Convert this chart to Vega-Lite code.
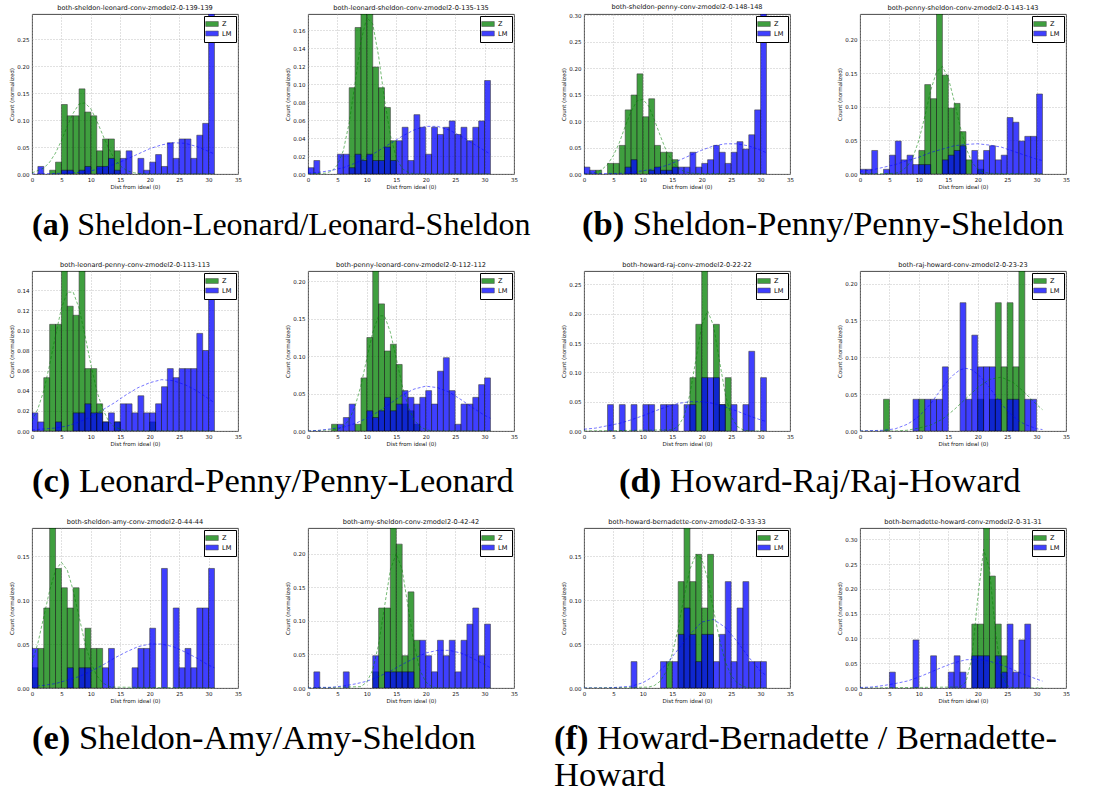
{
"$schema":"https://vega.github.io/schema/vega-lite/v6.json",
"background":"white",
"padding":{"left":9,"top":4,"right":0,"bottom":0},
"datasets":{
"bars":[
{"p":1,"s":"Z","x":3,"x2":4,"y":0.007},{"p":1,"s":"Z","x":4,"x2":5,"y":0.022},{"p":1,"s":"Z","x":5,"x2":6,"y":0.129},{"p":1,"s":"Z","x":6,"x2":7,"y":0.108},{"p":1,"s":"Z","x":7,"x2":8,"y":0.108},{"p":1,"s":"Z","x":8,"x2":9,"y":0.158},{"p":1,"s":"Z","x":9,"x2":10,"y":0.115},{"p":1,"s":"Z","x":10,"x2":11,"y":0.108},{"p":1,"s":"Z","x":11,"x2":12,"y":0.043},{"p":1,"s":"Z","x":12,"x2":13,"y":0.065},{"p":1,"s":"Z","x":13,"x2":14,"y":0.065},{"p":1,"s":"Z","x":14,"x2":15,"y":0.043},
{"p":2,"s":"Z","x":7,"x2":8,"y":0.096},{"p":2,"s":"Z","x":8,"x2":9,"y":0.163},{"p":2,"s":"Z","x":9,"x2":10,"y":0.178},{"p":2,"s":"Z","x":10,"x2":11,"y":0.178},{"p":2,"s":"Z","x":11,"x2":12,"y":0.119},{"p":2,"s":"Z","x":12,"x2":13,"y":0.096},{"p":2,"s":"Z","x":13,"x2":14,"y":0.074},{"p":2,"s":"Z","x":14,"x2":15,"y":0.037},
{"p":3,"s":"Z","x":2,"x2":3,"y":0.007},{"p":3,"s":"Z","x":4,"x2":5,"y":0.02},{"p":3,"s":"Z","x":5,"x2":6,"y":0.02},{"p":3,"s":"Z","x":6,"x2":7,"y":0.054},{"p":3,"s":"Z","x":7,"x2":8,"y":0.121},{"p":3,"s":"Z","x":8,"x2":9,"y":0.149},{"p":3,"s":"Z","x":9,"x2":10,"y":0.189},{"p":3,"s":"Z","x":10,"x2":11,"y":0.108},{"p":3,"s":"Z","x":11,"x2":12,"y":0.142},{"p":3,"s":"Z","x":12,"x2":13,"y":0.054},{"p":3,"s":"Z","x":13,"x2":14,"y":0.041},{"p":3,"s":"Z","x":14,"x2":15,"y":0.041},{"p":3,"s":"Z","x":15,"x2":16,"y":0.027},
{"p":4,"s":"Z","x":10,"x2":11,"y":0.035},{"p":4,"s":"Z","x":11,"x2":12,"y":0.133},{"p":4,"s":"Z","x":12,"x2":13,"y":0.112},{"p":4,"s":"Z","x":13,"x2":14,"y":0.238},{"p":4,"s":"Z","x":14,"x2":15,"y":0.147},{"p":4,"s":"Z","x":15,"x2":16,"y":0.098},{"p":4,"s":"Z","x":16,"x2":17,"y":0.105},{"p":4,"s":"Z","x":17,"x2":18,"y":0.063},{"p":4,"s":"Z","x":18,"x2":19,"y":0.021},{"p":4,"s":"Z","x":20,"x2":21,"y":0.007},
{"p":5,"s":"Z","x":2,"x2":3,"y":0.053},{"p":5,"s":"Z","x":3,"x2":4,"y":0.106},{"p":5,"s":"Z","x":4,"x2":5,"y":0.106},{"p":5,"s":"Z","x":5,"x2":6,"y":0.159},{"p":5,"s":"Z","x":6,"x2":7,"y":0.124},{"p":5,"s":"Z","x":7,"x2":8,"y":0.115},{"p":5,"s":"Z","x":8,"x2":9,"y":0.159},{"p":5,"s":"Z","x":9,"x2":10,"y":0.062},{"p":5,"s":"Z","x":10,"x2":11,"y":0.062},{"p":5,"s":"Z","x":11,"x2":12,"y":0.027},{"p":5,"s":"Z","x":12,"x2":13,"y":0.009},{"p":5,"s":"Z","x":14,"x2":15,"y":0.009},{"p":5,"s":"Z","x":20,"x2":21,"y":0.009},
{"p":6,"s":"Z","x":4,"x2":5,"y":0.009},{"p":6,"s":"Z","x":8,"x2":9,"y":0.009},{"p":6,"s":"Z","x":9,"x2":10,"y":0.071},{"p":6,"s":"Z","x":10,"x2":11,"y":0.125},{"p":6,"s":"Z","x":11,"x2":12,"y":0.214},{"p":6,"s":"Z","x":12,"x2":13,"y":0.17},{"p":6,"s":"Z","x":13,"x2":14,"y":0.107},{"p":6,"s":"Z","x":14,"x2":15,"y":0.116},{"p":6,"s":"Z","x":15,"x2":16,"y":0.089},{"p":6,"s":"Z","x":16,"x2":17,"y":0.036},{"p":6,"s":"Z","x":17,"x2":18,"y":0.027},{"p":6,"s":"Z","x":18,"x2":19,"y":0.009},
{"p":7,"s":"Z","x":18,"x2":19,"y":0.091},{"p":7,"s":"Z","x":19,"x2":20,"y":0.182},{"p":7,"s":"Z","x":20,"x2":21,"y":0.273},{"p":7,"s":"Z","x":22,"x2":23,"y":0.182},{"p":7,"s":"Z","x":23,"x2":24,"y":0.045},{"p":7,"s":"Z","x":24,"x2":25,"y":0.091},
{"p":8,"s":"Z","x":4,"x2":5,"y":0.043},{"p":8,"s":"Z","x":10,"x2":11,"y":0.043},{"p":8,"s":"Z","x":20,"x2":21,"y":0.043},{"p":8,"s":"Z","x":22,"x2":23,"y":0.043},{"p":8,"s":"Z","x":23,"x2":24,"y":0.174},{"p":8,"s":"Z","x":24,"x2":25,"y":0.087},{"p":8,"s":"Z","x":25,"x2":26,"y":0.174},{"p":8,"s":"Z","x":26,"x2":27,"y":0.087},{"p":8,"s":"Z","x":27,"x2":28,"y":0.217},
{"p":9,"s":"Z","x":0,"x2":1,"y":0.023},{"p":9,"s":"Z","x":1,"x2":2,"y":0.045},{"p":9,"s":"Z","x":2,"x2":3,"y":0.091},{"p":9,"s":"Z","x":3,"x2":4,"y":0.182},{"p":9,"s":"Z","x":4,"x2":5,"y":0.136},{"p":9,"s":"Z","x":5,"x2":6,"y":0.114},{"p":9,"s":"Z","x":6,"x2":7,"y":0.091},{"p":9,"s":"Z","x":7,"x2":8,"y":0.114},{"p":9,"s":"Z","x":8,"x2":9,"y":0.045},{"p":9,"s":"Z","x":9,"x2":10,"y":0.068},{"p":9,"s":"Z","x":10,"x2":11,"y":0.045},{"p":9,"s":"Z","x":11,"x2":12,"y":0.045},
{"p":10,"s":"Z","x":11,"x2":12,"y":0.024},{"p":10,"s":"Z","x":12,"x2":13,"y":0.119},{"p":10,"s":"Z","x":13,"x2":14,"y":0.119},{"p":10,"s":"Z","x":14,"x2":15,"y":0.238},{"p":10,"s":"Z","x":15,"x2":16,"y":0.214},{"p":10,"s":"Z","x":16,"x2":17,"y":0.048},{"p":10,"s":"Z","x":17,"x2":18,"y":0.143},{"p":10,"s":"Z","x":18,"x2":19,"y":0.071},
{"p":11,"s":"Z","x":14,"x2":15,"y":0.03},{"p":11,"s":"Z","x":16,"x2":17,"y":0.121},{"p":11,"s":"Z","x":17,"x2":18,"y":0.182},{"p":11,"s":"Z","x":18,"x2":19,"y":0.121},{"p":11,"s":"Z","x":19,"x2":20,"y":0.152},{"p":11,"s":"Z","x":20,"x2":21,"y":0.091},{"p":11,"s":"Z","x":21,"x2":22,"y":0.152},
{"p":12,"s":"Z","x":19,"x2":20,"y":0.129},{"p":12,"s":"Z","x":20,"x2":21,"y":0.129},{"p":12,"s":"Z","x":21,"x2":22,"y":0.323},{"p":12,"s":"Z","x":22,"x2":23,"y":0.226},{"p":12,"s":"Z","x":23,"x2":24,"y":0.129},{"p":12,"s":"Z","x":24,"x2":25,"y":0.065},
{"p":1,"s":"LM","x":1,"x2":2,"y":0.014},{"p":1,"s":"LM","x":5,"x2":6,"y":0.007},{"p":1,"s":"LM","x":6,"x2":7,"y":0.007},{"p":1,"s":"LM","x":8,"x2":9,"y":0.007},{"p":1,"s":"LM","x":9,"x2":10,"y":0.014},{"p":1,"s":"LM","x":11,"x2":12,"y":0.014},{"p":1,"s":"LM","x":12,"x2":13,"y":0.014},{"p":1,"s":"LM","x":13,"x2":14,"y":0.029},{"p":1,"s":"LM","x":14,"x2":15,"y":0.007},{"p":1,"s":"LM","x":15,"x2":16,"y":0.029},{"p":1,"s":"LM","x":16,"x2":17,"y":0.043},{"p":1,"s":"LM","x":18,"x2":19,"y":0.029},{"p":1,"s":"LM","x":19,"x2":20,"y":0.007},{"p":1,"s":"LM","x":20,"x2":21,"y":0.022},{"p":1,"s":"LM","x":21,"x2":22,"y":0.036},{"p":1,"s":"LM","x":22,"x2":23,"y":0.014},{"p":1,"s":"LM","x":23,"x2":24,"y":0.058},{"p":1,"s":"LM","x":24,"x2":25,"y":0.029},{"p":1,"s":"LM","x":25,"x2":26,"y":0.065},{"p":1,"s":"LM","x":26,"x2":27,"y":0.065},{"p":1,"s":"LM","x":27,"x2":28,"y":0.029},{"p":1,"s":"LM","x":28,"x2":29,"y":0.072},{"p":1,"s":"LM","x":29,"x2":30,"y":0.094},{"p":1,"s":"LM","x":30,"x2":31,"y":0.297},
{"p":2,"s":"LM","x":0,"x2":1,"y":0.007},{"p":2,"s":"LM","x":1,"x2":2,"y":0.015},{"p":2,"s":"LM","x":5,"x2":6,"y":0.022},{"p":2,"s":"LM","x":6,"x2":7,"y":0.022},{"p":2,"s":"LM","x":7,"x2":8,"y":0.007},{"p":2,"s":"LM","x":8,"x2":9,"y":0.022},{"p":2,"s":"LM","x":9,"x2":10,"y":0.015},{"p":2,"s":"LM","x":10,"x2":11,"y":0.022},{"p":2,"s":"LM","x":11,"x2":12,"y":0.015},{"p":2,"s":"LM","x":12,"x2":13,"y":0.015},{"p":2,"s":"LM","x":13,"x2":14,"y":0.03},{"p":2,"s":"LM","x":14,"x2":15,"y":0.015},{"p":2,"s":"LM","x":15,"x2":16,"y":0.037},{"p":2,"s":"LM","x":16,"x2":17,"y":0.052},{"p":2,"s":"LM","x":17,"x2":18,"y":0.015},{"p":2,"s":"LM","x":18,"x2":19,"y":0.066},{"p":2,"s":"LM","x":19,"x2":20,"y":0.052},{"p":2,"s":"LM","x":20,"x2":21,"y":0.022},{"p":2,"s":"LM","x":21,"x2":22,"y":0.052},{"p":2,"s":"LM","x":22,"x2":23,"y":0.044},{"p":2,"s":"LM","x":23,"x2":24,"y":0.052},{"p":2,"s":"LM","x":24,"x2":25,"y":0.059},{"p":2,"s":"LM","x":25,"x2":26,"y":0.044},{"p":2,"s":"LM","x":26,"x2":27,"y":0.052},{"p":2,"s":"LM","x":27,"x2":28,"y":0.037},{"p":2,"s":"LM","x":28,"x2":29,"y":0.052},{"p":2,"s":"LM","x":29,"x2":30,"y":0.059},{"p":2,"s":"LM","x":30,"x2":31,"y":0.104},
{"p":3,"s":"LM","x":0,"x2":1,"y":0.013},{"p":3,"s":"LM","x":1,"x2":2,"y":0.007},{"p":3,"s":"LM","x":7,"x2":8,"y":0.013},{"p":3,"s":"LM","x":8,"x2":9,"y":0.027},{"p":3,"s":"LM","x":11,"x2":12,"y":0.007},{"p":3,"s":"LM","x":12,"x2":13,"y":0.013},{"p":3,"s":"LM","x":13,"x2":14,"y":0.007},{"p":3,"s":"LM","x":14,"x2":15,"y":0.007},{"p":3,"s":"LM","x":15,"x2":16,"y":0.013},{"p":3,"s":"LM","x":16,"x2":17,"y":0.013},{"p":3,"s":"LM","x":17,"x2":18,"y":0.013},{"p":3,"s":"LM","x":18,"x2":19,"y":0.041},{"p":3,"s":"LM","x":19,"x2":20,"y":0.013},{"p":3,"s":"LM","x":20,"x2":21,"y":0.02},{"p":3,"s":"LM","x":21,"x2":22,"y":0.027},{"p":3,"s":"LM","x":22,"x2":23,"y":0.054},{"p":3,"s":"LM","x":23,"x2":24,"y":0.041},{"p":3,"s":"LM","x":24,"x2":25,"y":0.02},{"p":3,"s":"LM","x":25,"x2":26,"y":0.041},{"p":3,"s":"LM","x":26,"x2":27,"y":0.061},{"p":3,"s":"LM","x":27,"x2":28,"y":0.047},{"p":3,"s":"LM","x":28,"x2":29,"y":0.074},{"p":3,"s":"LM","x":29,"x2":30,"y":0.121},{"p":3,"s":"LM","x":30,"x2":31,"y":0.302},
{"p":4,"s":"LM","x":0,"x2":1,"y":0.007},{"p":4,"s":"LM","x":1,"x2":2,"y":0.007},{"p":4,"s":"LM","x":2,"x2":3,"y":0.035},{"p":4,"s":"LM","x":4,"x2":5,"y":0.007},{"p":4,"s":"LM","x":5,"x2":6,"y":0.028},{"p":4,"s":"LM","x":6,"x2":7,"y":0.049},{"p":4,"s":"LM","x":7,"x2":8,"y":0.021},{"p":4,"s":"LM","x":8,"x2":9,"y":0.028},{"p":4,"s":"LM","x":9,"x2":10,"y":0.014},{"p":4,"s":"LM","x":10,"x2":11,"y":0.014},{"p":4,"s":"LM","x":11,"x2":12,"y":0.014},{"p":4,"s":"LM","x":14,"x2":15,"y":0.021},{"p":4,"s":"LM","x":15,"x2":16,"y":0.028},{"p":4,"s":"LM","x":16,"x2":17,"y":0.035},{"p":4,"s":"LM","x":17,"x2":18,"y":0.042},{"p":4,"s":"LM","x":19,"x2":20,"y":0.035},{"p":4,"s":"LM","x":20,"x2":21,"y":0.021},{"p":4,"s":"LM","x":21,"x2":22,"y":0.035},{"p":4,"s":"LM","x":22,"x2":23,"y":0.042},{"p":4,"s":"LM","x":23,"x2":24,"y":0.021},{"p":4,"s":"LM","x":24,"x2":25,"y":0.028},{"p":4,"s":"LM","x":25,"x2":26,"y":0.084},{"p":4,"s":"LM","x":26,"x2":27,"y":0.077},{"p":4,"s":"LM","x":27,"x2":28,"y":0.049},{"p":4,"s":"LM","x":28,"x2":29,"y":0.056},{"p":4,"s":"LM","x":29,"x2":30,"y":0.056},{"p":4,"s":"LM","x":30,"x2":31,"y":0.119},
{"p":5,"s":"LM","x":0,"x2":1,"y":0.018},{"p":5,"s":"LM","x":1,"x2":2,"y":0.009},{"p":5,"s":"LM","x":4,"x2":5,"y":0.009},{"p":5,"s":"LM","x":7,"x2":8,"y":0.018},{"p":5,"s":"LM","x":8,"x2":9,"y":0.018},{"p":5,"s":"LM","x":9,"x2":10,"y":0.027},{"p":5,"s":"LM","x":10,"x2":11,"y":0.018},{"p":5,"s":"LM","x":11,"x2":12,"y":0.018},{"p":5,"s":"LM","x":12,"x2":13,"y":0.009},{"p":5,"s":"LM","x":13,"x2":14,"y":0.018},{"p":5,"s":"LM","x":14,"x2":15,"y":0.009},{"p":5,"s":"LM","x":15,"x2":16,"y":0.027},{"p":5,"s":"LM","x":16,"x2":17,"y":0.027},{"p":5,"s":"LM","x":17,"x2":18,"y":0.018},{"p":5,"s":"LM","x":18,"x2":19,"y":0.035},{"p":5,"s":"LM","x":19,"x2":20,"y":0.018},{"p":5,"s":"LM","x":20,"x2":21,"y":0.018},{"p":5,"s":"LM","x":21,"x2":22,"y":0.027},{"p":5,"s":"LM","x":22,"x2":23,"y":0.044},{"p":5,"s":"LM","x":23,"x2":24,"y":0.062},{"p":5,"s":"LM","x":24,"x2":25,"y":0.053},{"p":5,"s":"LM","x":25,"x2":26,"y":0.062},{"p":5,"s":"LM","x":26,"x2":27,"y":0.062},{"p":5,"s":"LM","x":27,"x2":28,"y":0.062},{"p":5,"s":"LM","x":28,"x2":29,"y":0.097},{"p":5,"s":"LM","x":29,"x2":30,"y":0.08},{"p":5,"s":"LM","x":30,"x2":31,"y":0.133},
{"p":6,"s":"LM","x":5,"x2":6,"y":0.009},{"p":6,"s":"LM","x":6,"x2":7,"y":0.018},{"p":6,"s":"LM","x":7,"x2":8,"y":0.036},{"p":6,"s":"LM","x":10,"x2":11,"y":0.027},{"p":6,"s":"LM","x":11,"x2":12,"y":0.018},{"p":6,"s":"LM","x":12,"x2":13,"y":0.027},{"p":6,"s":"LM","x":13,"x2":14,"y":0.045},{"p":6,"s":"LM","x":14,"x2":15,"y":0.027},{"p":6,"s":"LM","x":15,"x2":16,"y":0.036},{"p":6,"s":"LM","x":16,"x2":17,"y":0.054},{"p":6,"s":"LM","x":17,"x2":18,"y":0.045},{"p":6,"s":"LM","x":18,"x2":19,"y":0.036},{"p":6,"s":"LM","x":19,"x2":20,"y":0.045},{"p":6,"s":"LM","x":20,"x2":21,"y":0.054},{"p":6,"s":"LM","x":21,"x2":22,"y":0.036},{"p":6,"s":"LM","x":22,"x2":23,"y":0.08},{"p":6,"s":"LM","x":23,"x2":24,"y":0.098},{"p":6,"s":"LM","x":24,"x2":25,"y":0.054},{"p":6,"s":"LM","x":25,"x2":26,"y":0.009},{"p":6,"s":"LM","x":26,"x2":27,"y":0.036},{"p":6,"s":"LM","x":27,"x2":28,"y":0.036},{"p":6,"s":"LM","x":28,"x2":29,"y":0.045},{"p":6,"s":"LM","x":29,"x2":30,"y":0.062},{"p":6,"s":"LM","x":30,"x2":31,"y":0.071},
{"p":7,"s":"LM","x":4,"x2":5,"y":0.045},{"p":7,"s":"LM","x":6,"x2":7,"y":0.045},{"p":7,"s":"LM","x":8,"x2":9,"y":0.045},{"p":7,"s":"LM","x":10,"x2":11,"y":0.045},{"p":7,"s":"LM","x":11,"x2":12,"y":0.045},{"p":7,"s":"LM","x":13,"x2":14,"y":0.045},{"p":7,"s":"LM","x":14,"x2":15,"y":0.045},{"p":7,"s":"LM","x":15,"x2":16,"y":0.045},{"p":7,"s":"LM","x":17,"x2":18,"y":0.045},{"p":7,"s":"LM","x":18,"x2":19,"y":0.045},{"p":7,"s":"LM","x":20,"x2":21,"y":0.091},{"p":7,"s":"LM","x":21,"x2":22,"y":0.091},{"p":7,"s":"LM","x":22,"x2":23,"y":0.091},{"p":7,"s":"LM","x":23,"x2":24,"y":0.045},{"p":7,"s":"LM","x":25,"x2":26,"y":0.045},{"p":7,"s":"LM","x":27,"x2":28,"y":0.045},{"p":7,"s":"LM","x":28,"x2":29,"y":0.136},{"p":7,"s":"LM","x":30,"x2":31,"y":0.091},
{"p":8,"s":"LM","x":9,"x2":10,"y":0.043},{"p":8,"s":"LM","x":11,"x2":12,"y":0.043},{"p":8,"s":"LM","x":12,"x2":13,"y":0.043},{"p":8,"s":"LM","x":13,"x2":14,"y":0.043},{"p":8,"s":"LM","x":14,"x2":15,"y":0.087},{"p":8,"s":"LM","x":17,"x2":18,"y":0.174},{"p":8,"s":"LM","x":18,"x2":19,"y":0.043},{"p":8,"s":"LM","x":19,"x2":20,"y":0.13},{"p":8,"s":"LM","x":20,"x2":21,"y":0.087},{"p":8,"s":"LM","x":21,"x2":22,"y":0.087},{"p":8,"s":"LM","x":22,"x2":23,"y":0.087},{"p":8,"s":"LM","x":23,"x2":24,"y":0.043},{"p":8,"s":"LM","x":25,"x2":26,"y":0.043},{"p":8,"s":"LM","x":26,"x2":27,"y":0.043},{"p":8,"s":"LM","x":28,"x2":29,"y":0.043},{"p":8,"s":"LM","x":29,"x2":30,"y":0.043},
{"p":9,"s":"LM","x":0,"x2":1,"y":0.045},{"p":9,"s":"LM","x":6,"x2":7,"y":0.023},{"p":9,"s":"LM","x":8,"x2":9,"y":0.023},{"p":9,"s":"LM","x":9,"x2":10,"y":0.023},{"p":9,"s":"LM","x":12,"x2":13,"y":0.023},{"p":9,"s":"LM","x":13,"x2":14,"y":0.045},{"p":9,"s":"LM","x":17,"x2":18,"y":0.023},{"p":9,"s":"LM","x":18,"x2":19,"y":0.045},{"p":9,"s":"LM","x":19,"x2":20,"y":0.045},{"p":9,"s":"LM","x":20,"x2":21,"y":0.068},{"p":9,"s":"LM","x":22,"x2":23,"y":0.136},{"p":9,"s":"LM","x":24,"x2":25,"y":0.091},{"p":9,"s":"LM","x":25,"x2":26,"y":0.023},{"p":9,"s":"LM","x":26,"x2":27,"y":0.045},{"p":9,"s":"LM","x":27,"x2":28,"y":0.023},{"p":9,"s":"LM","x":28,"x2":29,"y":0.091},{"p":9,"s":"LM","x":29,"x2":30,"y":0.091},{"p":9,"s":"LM","x":30,"x2":31,"y":0.136},
{"p":10,"s":"LM","x":1,"x2":2,"y":0.024},{"p":10,"s":"LM","x":6,"x2":7,"y":0.024},{"p":10,"s":"LM","x":11,"x2":12,"y":0.048},{"p":10,"s":"LM","x":13,"x2":14,"y":0.024},{"p":10,"s":"LM","x":14,"x2":15,"y":0.024},{"p":10,"s":"LM","x":15,"x2":16,"y":0.024},{"p":10,"s":"LM","x":16,"x2":17,"y":0.024},{"p":10,"s":"LM","x":17,"x2":18,"y":0.024},{"p":10,"s":"LM","x":19,"x2":20,"y":0.071},{"p":10,"s":"LM","x":20,"x2":21,"y":0.048},{"p":10,"s":"LM","x":21,"x2":22,"y":0.024},{"p":10,"s":"LM","x":22,"x2":23,"y":0.071},{"p":10,"s":"LM","x":23,"x2":24,"y":0.048},{"p":10,"s":"LM","x":24,"x2":25,"y":0.071},{"p":10,"s":"LM","x":25,"x2":26,"y":0.024},{"p":10,"s":"LM","x":26,"x2":27,"y":0.071},{"p":10,"s":"LM","x":27,"x2":28,"y":0.095},{"p":10,"s":"LM","x":28,"x2":29,"y":0.119},{"p":10,"s":"LM","x":29,"x2":30,"y":0.048},{"p":10,"s":"LM","x":30,"x2":31,"y":0.095},
{"p":11,"s":"LM","x":8,"x2":9,"y":0.03},{"p":11,"s":"LM","x":13,"x2":14,"y":0.03},{"p":11,"s":"LM","x":15,"x2":16,"y":0.03},{"p":11,"s":"LM","x":16,"x2":17,"y":0.061},{"p":11,"s":"LM","x":17,"x2":18,"y":0.091},{"p":11,"s":"LM","x":18,"x2":19,"y":0.061},{"p":11,"s":"LM","x":19,"x2":20,"y":0.03},{"p":11,"s":"LM","x":20,"x2":21,"y":0.061},{"p":11,"s":"LM","x":21,"x2":22,"y":0.061},{"p":11,"s":"LM","x":22,"x2":23,"y":0.03},{"p":11,"s":"LM","x":23,"x2":24,"y":0.061},{"p":11,"s":"LM","x":24,"x2":25,"y":0.121},{"p":11,"s":"LM","x":25,"x2":26,"y":0.03},{"p":11,"s":"LM","x":26,"x2":27,"y":0.091},{"p":11,"s":"LM","x":27,"x2":28,"y":0.121},{"p":11,"s":"LM","x":28,"x2":29,"y":0.03},{"p":11,"s":"LM","x":29,"x2":30,"y":0.03},{"p":11,"s":"LM","x":30,"x2":31,"y":0.03},
{"p":12,"s":"LM","x":5,"x2":6,"y":0.032},{"p":12,"s":"LM","x":9,"x2":10,"y":0.097},{"p":12,"s":"LM","x":12,"x2":13,"y":0.065},{"p":12,"s":"LM","x":15,"x2":16,"y":0.032},{"p":12,"s":"LM","x":16,"x2":17,"y":0.065},{"p":12,"s":"LM","x":17,"x2":18,"y":0.032},{"p":12,"s":"LM","x":19,"x2":20,"y":0.065},{"p":12,"s":"LM","x":20,"x2":21,"y":0.065},{"p":12,"s":"LM","x":21,"x2":22,"y":0.065},{"p":12,"s":"LM","x":23,"x2":24,"y":0.065},{"p":12,"s":"LM","x":24,"x2":25,"y":0.032},{"p":12,"s":"LM","x":25,"x2":26,"y":0.129},{"p":12,"s":"LM","x":26,"x2":27,"y":0.032},{"p":12,"s":"LM","x":27,"x2":28,"y":0.097},{"p":12,"s":"LM","x":28,"x2":29,"y":0.129}
],
"curves":[
{"p":1,"s":"Z","x":0,"y":0.002},{"p":1,"s":"Z","x":2,"y":0.011},{"p":1,"s":"Z","x":3,"y":0.022},{"p":1,"s":"Z","x":4,"y":0.039},{"p":1,"s":"Z","x":5,"y":0.062},{"p":1,"s":"Z","x":6,"y":0.089},{"p":1,"s":"Z","x":7,"y":0.113},{"p":1,"s":"Z","x":8,"y":0.13},{"p":1,"s":"Z","x":9,"y":0.132},{"p":1,"s":"Z","x":10,"y":0.121},{"p":1,"s":"Z","x":11,"y":0.099},{"p":1,"s":"Z","x":12,"y":0.073},{"p":1,"s":"Z","x":13,"y":0.048},{"p":1,"s":"Z","x":14,"y":0.028},{"p":1,"s":"Z","x":15,"y":0.015},{"p":1,"s":"Z","x":16,"y":0.007},{"p":1,"s":"Z","x":17,"y":0.003},{"p":1,"s":"Z","x":18,"y":0.001},{"p":1,"s":"Z","x":20,"y":0},{"p":1,"s":"Z","x":31,"y":0},
{"p":1,"s":"LM","x":0,"y":0},{"p":1,"s":"LM","x":4,"y":0.001},{"p":1,"s":"LM","x":6,"y":0.002},{"p":1,"s":"LM","x":8,"y":0.003},{"p":1,"s":"LM","x":10,"y":0.006},{"p":1,"s":"LM","x":12,"y":0.011},{"p":1,"s":"LM","x":14,"y":0.018},{"p":1,"s":"LM","x":16,"y":0.027},{"p":1,"s":"LM","x":18,"y":0.037},{"p":1,"s":"LM","x":20,"y":0.047},{"p":1,"s":"LM","x":22,"y":0.054},{"p":1,"s":"LM","x":24,"y":0.058},{"p":1,"s":"LM","x":26,"y":0.057},{"p":1,"s":"LM","x":28,"y":0.051},{"p":1,"s":"LM","x":30,"y":0.042},{"p":1,"s":"LM","x":31,"y":0.037},
{"p":2,"s":"Z","x":0,"y":0},{"p":2,"s":"Z","x":3,"y":0.001},{"p":2,"s":"Z","x":4,"y":0.003},{"p":2,"s":"Z","x":5,"y":0.01},{"p":2,"s":"Z","x":6,"y":0.026},{"p":2,"s":"Z","x":7,"y":0.057},{"p":2,"s":"Z","x":8,"y":0.101},{"p":2,"s":"Z","x":9,"y":0.148},{"p":2,"s":"Z","x":10,"y":0.174},{"p":2,"s":"Z","x":11,"y":0.167},{"p":2,"s":"Z","x":12,"y":0.131},{"p":2,"s":"Z","x":13,"y":0.083},{"p":2,"s":"Z","x":14,"y":0.043},{"p":2,"s":"Z","x":15,"y":0.018},{"p":2,"s":"Z","x":16,"y":0.006},{"p":2,"s":"Z","x":17,"y":0.002},{"p":2,"s":"Z","x":18,"y":0},{"p":2,"s":"Z","x":31,"y":0},
{"p":2,"s":"LM","x":0,"y":0.001},{"p":2,"s":"LM","x":2,"y":0.002},{"p":2,"s":"LM","x":4,"y":0.004},{"p":2,"s":"LM","x":6,"y":0.007},{"p":2,"s":"LM","x":8,"y":0.012},{"p":2,"s":"LM","x":10,"y":0.018},{"p":2,"s":"LM","x":12,"y":0.026},{"p":2,"s":"LM","x":14,"y":0.034},{"p":2,"s":"LM","x":16,"y":0.042},{"p":2,"s":"LM","x":18,"y":0.049},{"p":2,"s":"LM","x":20,"y":0.053},{"p":2,"s":"LM","x":22,"y":0.053},{"p":2,"s":"LM","x":24,"y":0.049},{"p":2,"s":"LM","x":26,"y":0.042},{"p":2,"s":"LM","x":28,"y":0.034},{"p":2,"s":"LM","x":30,"y":0.026},{"p":2,"s":"LM","x":31,"y":0.022},
{"p":3,"s":"Z","x":0,"y":0},{"p":3,"s":"Z","x":2,"y":0.003},{"p":3,"s":"Z","x":3,"y":0.008},{"p":3,"s":"Z","x":4,"y":0.018},{"p":3,"s":"Z","x":5,"y":0.035},{"p":3,"s":"Z","x":6,"y":0.059},{"p":3,"s":"Z","x":7,"y":0.09},{"p":3,"s":"Z","x":8,"y":0.118},{"p":3,"s":"Z","x":9,"y":0.138},{"p":3,"s":"Z","x":10,"y":0.141},{"p":3,"s":"Z","x":11,"y":0.128},{"p":3,"s":"Z","x":12,"y":0.101},{"p":3,"s":"Z","x":13,"y":0.071},{"p":3,"s":"Z","x":14,"y":0.043},{"p":3,"s":"Z","x":15,"y":0.024},{"p":3,"s":"Z","x":16,"y":0.011},{"p":3,"s":"Z","x":17,"y":0.005},{"p":3,"s":"Z","x":18,"y":0.002},{"p":3,"s":"Z","x":19,"y":0.001},{"p":3,"s":"Z","x":31,"y":0},
{"p":3,"s":"LM","x":0,"y":0},{"p":3,"s":"LM","x":4,"y":0.001},{"p":3,"s":"LM","x":6,"y":0.001},{"p":3,"s":"LM","x":8,"y":0.003},{"p":3,"s":"LM","x":10,"y":0.006},{"p":3,"s":"LM","x":12,"y":0.01},{"p":3,"s":"LM","x":14,"y":0.016},{"p":3,"s":"LM","x":16,"y":0.025},{"p":3,"s":"LM","x":18,"y":0.035},{"p":3,"s":"LM","x":20,"y":0.045},{"p":3,"s":"LM","x":22,"y":0.053},{"p":3,"s":"LM","x":24,"y":0.057},{"p":3,"s":"LM","x":26,"y":0.057},{"p":3,"s":"LM","x":28,"y":0.053},{"p":3,"s":"LM","x":30,"y":0.045},{"p":3,"s":"LM","x":31,"y":0.04},
{"p":4,"s":"Z","x":0,"y":0},{"p":4,"s":"Z","x":6,"y":0.001},{"p":4,"s":"Z","x":7,"y":0.004},{"p":4,"s":"Z","x":8,"y":0.011},{"p":4,"s":"Z","x":9,"y":0.025},{"p":4,"s":"Z","x":10,"y":0.05},{"p":4,"s":"Z","x":11,"y":0.085},{"p":4,"s":"Z","x":12,"y":0.124},{"p":4,"s":"Z","x":13,"y":0.152},{"p":4,"s":"Z","x":14,"y":0.16},{"p":4,"s":"Z","x":15,"y":0.143},{"p":4,"s":"Z","x":16,"y":0.109},{"p":4,"s":"Z","x":17,"y":0.071},{"p":4,"s":"Z","x":18,"y":0.039},{"p":4,"s":"Z","x":19,"y":0.018},{"p":4,"s":"Z","x":20,"y":0.007},{"p":4,"s":"Z","x":21,"y":0.003},{"p":4,"s":"Z","x":22,"y":0.001},{"p":4,"s":"Z","x":31,"y":0},
{"p":4,"s":"LM","x":0,"y":0.004},{"p":4,"s":"LM","x":2,"y":0.006},{"p":4,"s":"LM","x":4,"y":0.01},{"p":4,"s":"LM","x":6,"y":0.014},{"p":4,"s":"LM","x":8,"y":0.02},{"p":4,"s":"LM","x":10,"y":0.025},{"p":4,"s":"LM","x":12,"y":0.032},{"p":4,"s":"LM","x":14,"y":0.037},{"p":4,"s":"LM","x":16,"y":0.042},{"p":4,"s":"LM","x":18,"y":0.044},{"p":4,"s":"LM","x":20,"y":0.045},{"p":4,"s":"LM","x":22,"y":0.043},{"p":4,"s":"LM","x":24,"y":0.04},{"p":4,"s":"LM","x":26,"y":0.034},{"p":4,"s":"LM","x":28,"y":0.028},{"p":4,"s":"LM","x":30,"y":0.022},{"p":4,"s":"LM","x":31,"y":0.02},
{"p":5,"s":"Z","x":0,"y":0.01},{"p":5,"s":"Z","x":1,"y":0.022},{"p":5,"s":"Z","x":2,"y":0.04},{"p":5,"s":"Z","x":3,"y":0.066},{"p":5,"s":"Z","x":4,"y":0.095},{"p":5,"s":"Z","x":5,"y":0.122},{"p":5,"s":"Z","x":6,"y":0.138},{"p":5,"s":"Z","x":7,"y":0.138},{"p":5,"s":"Z","x":8,"y":0.122},{"p":5,"s":"Z","x":9,"y":0.095},{"p":5,"s":"Z","x":10,"y":0.066},{"p":5,"s":"Z","x":11,"y":0.04},{"p":5,"s":"Z","x":12,"y":0.022},{"p":5,"s":"Z","x":13,"y":0.01},{"p":5,"s":"Z","x":14,"y":0.004},{"p":5,"s":"Z","x":15,"y":0.002},{"p":5,"s":"Z","x":16,"y":0},{"p":5,"s":"Z","x":31,"y":0},
{"p":5,"s":"LM","x":0,"y":0.001},{"p":5,"s":"LM","x":2,"y":0.002},{"p":5,"s":"LM","x":4,"y":0.003},{"p":5,"s":"LM","x":6,"y":0.005},{"p":5,"s":"LM","x":8,"y":0.009},{"p":5,"s":"LM","x":10,"y":0.014},{"p":5,"s":"LM","x":12,"y":0.021},{"p":5,"s":"LM","x":14,"y":0.028},{"p":5,"s":"LM","x":16,"y":0.036},{"p":5,"s":"LM","x":18,"y":0.043},{"p":5,"s":"LM","x":20,"y":0.048},{"p":5,"s":"LM","x":22,"y":0.051},{"p":5,"s":"LM","x":24,"y":0.05},{"p":5,"s":"LM","x":26,"y":0.046},{"p":5,"s":"LM","x":28,"y":0.04},{"p":5,"s":"LM","x":30,"y":0.032},{"p":5,"s":"LM","x":31,"y":0.028},
{"p":6,"s":"Z","x":0,"y":0},{"p":6,"s":"Z","x":5,"y":0.002},{"p":6,"s":"Z","x":6,"y":0.006},{"p":6,"s":"Z","x":7,"y":0.015},{"p":6,"s":"Z","x":8,"y":0.033},{"p":6,"s":"Z","x":9,"y":0.061},{"p":6,"s":"Z","x":10,"y":0.097},{"p":6,"s":"Z","x":11,"y":0.132},{"p":6,"s":"Z","x":12,"y":0.154},{"p":6,"s":"Z","x":13,"y":0.154},{"p":6,"s":"Z","x":14,"y":0.132},{"p":6,"s":"Z","x":15,"y":0.097},{"p":6,"s":"Z","x":16,"y":0.061},{"p":6,"s":"Z","x":17,"y":0.033},{"p":6,"s":"Z","x":18,"y":0.015},{"p":6,"s":"Z","x":19,"y":0.006},{"p":6,"s":"Z","x":20,"y":0.002},{"p":6,"s":"Z","x":21,"y":0},{"p":6,"s":"Z","x":31,"y":0},
{"p":6,"s":"LM","x":0,"y":0},{"p":6,"s":"LM","x":2,"y":0.001},{"p":6,"s":"LM","x":4,"y":0.003},{"p":6,"s":"LM","x":6,"y":0.005},{"p":6,"s":"LM","x":8,"y":0.01},{"p":6,"s":"LM","x":10,"y":0.017},{"p":6,"s":"LM","x":12,"y":0.026},{"p":6,"s":"LM","x":14,"y":0.037},{"p":6,"s":"LM","x":16,"y":0.048},{"p":6,"s":"LM","x":18,"y":0.056},{"p":6,"s":"LM","x":20,"y":0.06},{"p":6,"s":"LM","x":22,"y":0.058},{"p":6,"s":"LM","x":24,"y":0.052},{"p":6,"s":"LM","x":26,"y":0.042},{"p":6,"s":"LM","x":28,"y":0.031},{"p":6,"s":"LM","x":30,"y":0.021},{"p":6,"s":"LM","x":31,"y":0.017},
{"p":7,"s":"Z","x":0,"y":0},{"p":7,"s":"Z","x":15,"y":0.002},{"p":7,"s":"Z","x":16,"y":0.008},{"p":7,"s":"Z","x":17,"y":0.025},{"p":7,"s":"Z","x":18,"y":0.063},{"p":7,"s":"Z","x":19,"y":0.121},{"p":7,"s":"Z","x":20,"y":0.18},{"p":7,"s":"Z","x":21,"y":0.205},{"p":7,"s":"Z","x":22,"y":0.18},{"p":7,"s":"Z","x":23,"y":0.121},{"p":7,"s":"Z","x":24,"y":0.063},{"p":7,"s":"Z","x":25,"y":0.025},{"p":7,"s":"Z","x":26,"y":0.008},{"p":7,"s":"Z","x":27,"y":0.002},{"p":7,"s":"Z","x":28,"y":0},{"p":7,"s":"Z","x":31,"y":0},
{"p":7,"s":"LM","x":0,"y":0.003},{"p":7,"s":"LM","x":2,"y":0.005},{"p":7,"s":"LM","x":4,"y":0.009},{"p":7,"s":"LM","x":6,"y":0.013},{"p":7,"s":"LM","x":8,"y":0.019},{"p":7,"s":"LM","x":10,"y":0.026},{"p":7,"s":"LM","x":12,"y":0.034},{"p":7,"s":"LM","x":14,"y":0.041},{"p":7,"s":"LM","x":16,"y":0.047},{"p":7,"s":"LM","x":18,"y":0.05},{"p":7,"s":"LM","x":20,"y":0.05},{"p":7,"s":"LM","x":22,"y":0.047},{"p":7,"s":"LM","x":24,"y":0.041},{"p":7,"s":"LM","x":26,"y":0.034},{"p":7,"s":"LM","x":28,"y":0.026},{"p":7,"s":"LM","x":30,"y":0.019},{"p":7,"s":"LM","x":31,"y":0.016},
{"p":8,"s":"Z","x":0,"y":0},{"p":8,"s":"Z","x":6,"y":0},{"p":8,"s":"Z","x":8,"y":0.001},{"p":8,"s":"Z","x":10,"y":0.004},{"p":8,"s":"Z","x":12,"y":0.008},{"p":8,"s":"Z","x":14,"y":0.016},{"p":8,"s":"Z","x":16,"y":0.029},{"p":8,"s":"Z","x":18,"y":0.044},{"p":8,"s":"Z","x":20,"y":0.059},{"p":8,"s":"Z","x":22,"y":0.07},{"p":8,"s":"Z","x":24,"y":0.073},{"p":8,"s":"Z","x":26,"y":0.066},{"p":8,"s":"Z","x":28,"y":0.052},{"p":8,"s":"Z","x":30,"y":0.036},{"p":8,"s":"Z","x":31,"y":0.029},
{"p":8,"s":"LM","x":0,"y":0},{"p":8,"s":"LM","x":4,"y":0.001},{"p":8,"s":"LM","x":6,"y":0.003},{"p":8,"s":"LM","x":8,"y":0.009},{"p":8,"s":"LM","x":9,"y":0.014},{"p":8,"s":"LM","x":10,"y":0.02},{"p":8,"s":"LM","x":11,"y":0.028},{"p":8,"s":"LM","x":12,"y":0.037},{"p":8,"s":"LM","x":13,"y":0.048},{"p":8,"s":"LM","x":14,"y":0.059},{"p":8,"s":"LM","x":15,"y":0.069},{"p":8,"s":"LM","x":16,"y":0.077},{"p":8,"s":"LM","x":17,"y":0.083},{"p":8,"s":"LM","x":18,"y":0.085},{"p":8,"s":"LM","x":19,"y":0.083},{"p":8,"s":"LM","x":20,"y":0.077},{"p":8,"s":"LM","x":21,"y":0.069},{"p":8,"s":"LM","x":22,"y":0.059},{"p":8,"s":"LM","x":23,"y":0.048},{"p":8,"s":"LM","x":24,"y":0.037},{"p":8,"s":"LM","x":25,"y":0.028},{"p":8,"s":"LM","x":26,"y":0.02},{"p":8,"s":"LM","x":27,"y":0.014},{"p":8,"s":"LM","x":28,"y":0.009},{"p":8,"s":"LM","x":29,"y":0.006},{"p":8,"s":"LM","x":30,"y":0.003},{"p":8,"s":"LM","x":31,"y":0.002},
{"p":9,"s":"Z","x":0,"y":0.029},{"p":9,"s":"Z","x":1,"y":0.051},{"p":9,"s":"Z","x":2,"y":0.081},{"p":9,"s":"Z","x":3,"y":0.111},{"p":9,"s":"Z","x":4,"y":0.134},{"p":9,"s":"Z","x":5,"y":0.143},{"p":9,"s":"Z","x":6,"y":0.134},{"p":9,"s":"Z","x":7,"y":0.111},{"p":9,"s":"Z","x":8,"y":0.081},{"p":9,"s":"Z","x":9,"y":0.051},{"p":9,"s":"Z","x":10,"y":0.029},{"p":9,"s":"Z","x":11,"y":0.014},{"p":9,"s":"Z","x":12,"y":0.006},{"p":9,"s":"Z","x":13,"y":0.002},{"p":9,"s":"Z","x":14,"y":0.001},{"p":9,"s":"Z","x":31,"y":0},
{"p":9,"s":"LM","x":0,"y":0.002},{"p":9,"s":"LM","x":2,"y":0.003},{"p":9,"s":"LM","x":4,"y":0.005},{"p":9,"s":"LM","x":6,"y":0.009},{"p":9,"s":"LM","x":8,"y":0.013},{"p":9,"s":"LM","x":10,"y":0.019},{"p":9,"s":"LM","x":12,"y":0.026},{"p":9,"s":"LM","x":14,"y":0.034},{"p":9,"s":"LM","x":16,"y":0.041},{"p":9,"s":"LM","x":18,"y":0.047},{"p":9,"s":"LM","x":20,"y":0.05},{"p":9,"s":"LM","x":22,"y":0.05},{"p":9,"s":"LM","x":24,"y":0.047},{"p":9,"s":"LM","x":26,"y":0.041},{"p":9,"s":"LM","x":28,"y":0.034},{"p":9,"s":"LM","x":30,"y":0.026},{"p":9,"s":"LM","x":31,"y":0.023},
{"p":10,"s":"Z","x":0,"y":0},{"p":10,"s":"Z","x":9,"y":0.002},{"p":10,"s":"Z","x":10,"y":0.009},{"p":10,"s":"Z","x":11,"y":0.027},{"p":10,"s":"Z","x":12,"y":0.065},{"p":10,"s":"Z","x":13,"y":0.121},{"p":10,"s":"Z","x":14,"y":0.176},{"p":10,"s":"Z","x":15,"y":0.2},{"p":10,"s":"Z","x":16,"y":0.176},{"p":10,"s":"Z","x":17,"y":0.121},{"p":10,"s":"Z","x":18,"y":0.065},{"p":10,"s":"Z","x":19,"y":0.027},{"p":10,"s":"Z","x":20,"y":0.009},{"p":10,"s":"Z","x":21,"y":0.002},{"p":10,"s":"Z","x":22,"y":0},{"p":10,"s":"Z","x":31,"y":0},
{"p":10,"s":"LM","x":0,"y":0},{"p":10,"s":"LM","x":2,"y":0.001},{"p":10,"s":"LM","x":4,"y":0.001},{"p":10,"s":"LM","x":6,"y":0.003},{"p":10,"s":"LM","x":8,"y":0.006},{"p":10,"s":"LM","x":10,"y":0.01},{"p":10,"s":"LM","x":12,"y":0.017},{"p":10,"s":"LM","x":14,"y":0.025},{"p":10,"s":"LM","x":16,"y":0.035},{"p":10,"s":"LM","x":18,"y":0.044},{"p":10,"s":"LM","x":20,"y":0.052},{"p":10,"s":"LM","x":22,"y":0.056},{"p":10,"s":"LM","x":24,"y":0.056},{"p":10,"s":"LM","x":26,"y":0.052},{"p":10,"s":"LM","x":28,"y":0.044},{"p":10,"s":"LM","x":30,"y":0.035},{"p":10,"s":"LM","x":31,"y":0.03},
{"p":11,"s":"Z","x":0,"y":0},{"p":11,"s":"Z","x":11,"y":0.001},{"p":11,"s":"Z","x":12,"y":0.003},{"p":11,"s":"Z","x":13,"y":0.008},{"p":11,"s":"Z","x":14,"y":0.019},{"p":11,"s":"Z","x":15,"y":0.039},{"p":11,"s":"Z","x":16,"y":0.068},{"p":11,"s":"Z","x":17,"y":0.104},{"p":11,"s":"Z","x":18,"y":0.135},{"p":11,"s":"Z","x":19,"y":0.152},{"p":11,"s":"Z","x":20,"y":0.147},{"p":11,"s":"Z","x":21,"y":0.124},{"p":11,"s":"Z","x":22,"y":0.089},{"p":11,"s":"Z","x":23,"y":0.056},{"p":11,"s":"Z","x":24,"y":0.03},{"p":11,"s":"Z","x":25,"y":0.014},{"p":11,"s":"Z","x":26,"y":0.006},{"p":11,"s":"Z","x":27,"y":0.002},{"p":11,"s":"Z","x":28,"y":0},{"p":11,"s":"Z","x":31,"y":0},
{"p":11,"s":"LM","x":0,"y":0},{"p":11,"s":"LM","x":4,"y":0},{"p":11,"s":"LM","x":6,"y":0.001},{"p":11,"s":"LM","x":8,"y":0.002},{"p":11,"s":"LM","x":10,"y":0.006},{"p":11,"s":"LM","x":12,"y":0.014},{"p":11,"s":"LM","x":14,"y":0.027},{"p":11,"s":"LM","x":16,"y":0.044},{"p":11,"s":"LM","x":18,"y":0.061},{"p":11,"s":"LM","x":20,"y":0.075},{"p":11,"s":"LM","x":22,"y":0.078},{"p":11,"s":"LM","x":24,"y":0.069},{"p":11,"s":"LM","x":26,"y":0.053},{"p":11,"s":"LM","x":28,"y":0.035},{"p":11,"s":"LM","x":30,"y":0.019},{"p":11,"s":"LM","x":31,"y":0.014},
{"p":12,"s":"Z","x":0,"y":0},{"p":12,"s":"Z","x":17,"y":0.002},{"p":12,"s":"Z","x":18,"y":0.012},{"p":12,"s":"Z","x":19,"y":0.06},{"p":12,"s":"Z","x":20,"y":0.18},{"p":12,"s":"Z","x":21,"y":0.28},{"p":12,"s":"Z","x":22,"y":0.24},{"p":12,"s":"Z","x":23,"y":0.115},{"p":12,"s":"Z","x":24,"y":0.03},{"p":12,"s":"Z","x":25,"y":0.005},{"p":12,"s":"Z","x":26,"y":0},{"p":12,"s":"Z","x":31,"y":0},
{"p":12,"s":"LM","x":0,"y":0.001},{"p":12,"s":"LM","x":2,"y":0.002},{"p":12,"s":"LM","x":4,"y":0.005},{"p":12,"s":"LM","x":6,"y":0.009},{"p":12,"s":"LM","x":8,"y":0.014},{"p":12,"s":"LM","x":10,"y":0.022},{"p":12,"s":"LM","x":12,"y":0.032},{"p":12,"s":"LM","x":14,"y":0.042},{"p":12,"s":"LM","x":16,"y":0.051},{"p":12,"s":"LM","x":18,"y":0.057},{"p":12,"s":"LM","x":20,"y":0.058},{"p":12,"s":"LM","x":22,"y":0.054},{"p":12,"s":"LM","x":24,"y":0.047},{"p":12,"s":"LM","x":26,"y":0.037},{"p":12,"s":"LM","x":28,"y":0.027},{"p":12,"s":"LM","x":30,"y":0.018},{"p":12,"s":"LM","x":31,"y":0.014}
]
},
"spacing":0,
"resolve":{"scale":{"color":"independent"},"legend":{"color":"independent"}},
"vconcat":[
{"hconcat":[
{"width":206,"height":160,"title":"both-sheldon-leonard-conv-zmodel2-0-139-139","encoding":{"x":{"field":"x","type":"quantitative","scale":{"domain":[0,35],"nice":false},"axis":{"values":[0,5,10,15,20,25,30,35],"title":"Dist from ideal (0)"}},"y":{"field":"y","type":"quantitative","stack":null,"scale":{"domain":[0,0.297],"nice":false},"axis":{"values":[0,0.05,0.1,0.15,0.2,0.25],"format":".2f","title":"Count (normalized)"}}},"layer":[
{"data":{"name":"bars"},"transform":[{"filter":"datum.p==1"}],"mark":{"type":"bar","opacity":0.75,"stroke":"#000","strokeWidth":0.6,"clip":true},"encoding":{"x2":{"field":"x2"},"y2":{"datum":0},"color":{"field":"s","type":"nominal","scale":{"domain":["Z","LM"],"range":["#008000","#0000ff"]},"legend":{"title":null,"orient":"top-right","offset":2,"padding":4,"fillColor":"#fff","strokeColor":"#000","symbolType":"M-1.8,-0.7H1.8V0.7H-1.8Z","symbolSize":49,"symbolStrokeColor":"#000","symbolStrokeWidth":0.5,"labelFontSize":6.6,"labelFont":"DejaVu Sans","rowPadding":1.5,"labelOffset":6,"cornerRadius":0}}}},
{"data":{"name":"curves"},"transform":[{"filter":"datum.p==1&&datum.s=='Z'"}],"mark":{"type":"line","color":"#008000","strokeDash":[3,2],"strokeWidth":0.9,"opacity":0.6,"clip":true},"encoding":{}},
{"data":{"name":"curves"},"transform":[{"filter":"datum.p==1&&datum.s=='LM'"}],"mark":{"type":"line","color":"#0000ff","strokeDash":[3,2],"strokeWidth":0.9,"opacity":0.6,"clip":true},"encoding":{}}]},
{"width":206,"height":160,"title":"both-leonard-sheldon-conv-zmodel2-0-135-135","encoding":{"x":{"field":"x","type":"quantitative","scale":{"domain":[0,35],"nice":false},"axis":{"values":[0,5,10,15,20,25,30,35],"title":"Dist from ideal (0)"}},"y":{"field":"y","type":"quantitative","stack":null,"scale":{"domain":[0,0.178],"nice":false},"axis":{"values":[0,0.02,0.04,0.06,0.08,0.1,0.12,0.14,0.16],"format":".2f","title":"Count (normalized)"}}},"layer":[
{"data":{"name":"bars"},"transform":[{"filter":"datum.p==2"}],"mark":{"type":"bar","opacity":0.75,"stroke":"#000","strokeWidth":0.6,"clip":true},"encoding":{"x2":{"field":"x2"},"y2":{"datum":0},"color":{"field":"s","type":"nominal","scale":{"domain":["Z","LM"],"range":["#008000","#0000ff"]},"legend":{"title":null,"orient":"top-right","offset":2,"padding":4,"fillColor":"#fff","strokeColor":"#000","symbolType":"M-1.8,-0.7H1.8V0.7H-1.8Z","symbolSize":49,"symbolStrokeColor":"#000","symbolStrokeWidth":0.5,"labelFontSize":6.6,"labelFont":"DejaVu Sans","rowPadding":1.5,"labelOffset":6,"cornerRadius":0}}}},
{"data":{"name":"curves"},"transform":[{"filter":"datum.p==2&&datum.s=='Z'"}],"mark":{"type":"line","color":"#008000","strokeDash":[3,2],"strokeWidth":0.9,"opacity":0.6,"clip":true},"encoding":{}},
{"data":{"name":"curves"},"transform":[{"filter":"datum.p==2&&datum.s=='LM'"}],"mark":{"type":"line","color":"#0000ff","strokeDash":[3,2],"strokeWidth":0.9,"opacity":0.6,"clip":true},"encoding":{}}]},
{"width":206,"height":160,"title":"both-sheldon-penny-conv-zmodel2-0-148-148","encoding":{"x":{"field":"x","type":"quantitative","scale":{"domain":[0,35],"nice":false},"axis":{"values":[0,5,10,15,20,25,30,35],"title":"Dist from ideal (0)"}},"y":{"field":"y","type":"quantitative","stack":null,"scale":{"domain":[0,0.302],"nice":false},"axis":{"values":[0,0.05,0.1,0.15,0.2,0.25,0.3],"format":".2f","title":"Count (normalized)"}}},"layer":[
{"data":{"name":"bars"},"transform":[{"filter":"datum.p==3"}],"mark":{"type":"bar","opacity":0.75,"stroke":"#000","strokeWidth":0.6,"clip":true},"encoding":{"x2":{"field":"x2"},"y2":{"datum":0},"color":{"field":"s","type":"nominal","scale":{"domain":["Z","LM"],"range":["#008000","#0000ff"]},"legend":{"title":null,"orient":"top-right","offset":2,"padding":4,"fillColor":"#fff","strokeColor":"#000","symbolType":"M-1.8,-0.7H1.8V0.7H-1.8Z","symbolSize":49,"symbolStrokeColor":"#000","symbolStrokeWidth":0.5,"labelFontSize":6.6,"labelFont":"DejaVu Sans","rowPadding":1.5,"labelOffset":6,"cornerRadius":0}}}},
{"data":{"name":"curves"},"transform":[{"filter":"datum.p==3&&datum.s=='Z'"}],"mark":{"type":"line","color":"#008000","strokeDash":[3,2],"strokeWidth":0.9,"opacity":0.6,"clip":true},"encoding":{}},
{"data":{"name":"curves"},"transform":[{"filter":"datum.p==3&&datum.s=='LM'"}],"mark":{"type":"line","color":"#0000ff","strokeDash":[3,2],"strokeWidth":0.9,"opacity":0.6,"clip":true},"encoding":{}}]},
{"width":206,"height":160,"title":"both-penny-sheldon-conv-zmodel2-0-143-143","encoding":{"x":{"field":"x","type":"quantitative","scale":{"domain":[0,35],"nice":false},"axis":{"values":[0,5,10,15,20,25,30,35],"title":"Dist from ideal (0)"}},"y":{"field":"y","type":"quantitative","stack":null,"scale":{"domain":[0,0.238],"nice":false},"axis":{"values":[0,0.05,0.1,0.15,0.2],"format":".2f","title":"Count (normalized)"}}},"layer":[
{"data":{"name":"bars"},"transform":[{"filter":"datum.p==4"}],"mark":{"type":"bar","opacity":0.75,"stroke":"#000","strokeWidth":0.6,"clip":true},"encoding":{"x2":{"field":"x2"},"y2":{"datum":0},"color":{"field":"s","type":"nominal","scale":{"domain":["Z","LM"],"range":["#008000","#0000ff"]},"legend":{"title":null,"orient":"top-right","offset":2,"padding":4,"fillColor":"#fff","strokeColor":"#000","symbolType":"M-1.8,-0.7H1.8V0.7H-1.8Z","symbolSize":49,"symbolStrokeColor":"#000","symbolStrokeWidth":0.5,"labelFontSize":6.6,"labelFont":"DejaVu Sans","rowPadding":1.5,"labelOffset":6,"cornerRadius":0}}}},
{"data":{"name":"curves"},"transform":[{"filter":"datum.p==4&&datum.s=='Z'"}],"mark":{"type":"line","color":"#008000","strokeDash":[3,2],"strokeWidth":0.9,"opacity":0.6,"clip":true},"encoding":{}},
{"data":{"name":"curves"},"transform":[{"filter":"datum.p==4&&datum.s=='LM'"}],"mark":{"type":"line","color":"#0000ff","strokeDash":[3,2],"strokeWidth":0.9,"opacity":0.6,"clip":true},"encoding":{}}]}
],"spacing":43,"resolve":{"scale":{"color":"independent"},"legend":{"color":"independent"}}},
{"hconcat":[
{"width":522,"height":70,"view":{"stroke":null},"data":{"values":[{"l":"(a)","c":"Sheldon-Leonard/Leonard-Sheldon"}]},"encoding":{"x":{"datum":0,"type":"quantitative","scale":{"domain":[0,1]},"axis":null},"y":{"datum":0.371,"type":"quantitative","scale":{"domain":[0,1]},"axis":null}},"layer":[
{"mark":{"type":"text","font":"Liberation Serif","fontSize":32,"fontWeight":"bold","align":"left","baseline":"alphabetic","color":"#000"},"encoding":{"text":{"field":"l","type":"nominal"}}},
{"mark":{"type":"text","font":"Liberation Serif","fontSize":32,"fontWeight":"normal","align":"left","baseline":"alphabetic","dx":45.3,"color":"#000"},"encoding":{"text":{"field":"c","type":"nominal"}}}]},
{"width":505,"height":70,"view":{"stroke":null},"data":{"values":[{"l":"(b)","c":"Sheldon-Penny/Penny-Sheldon"}]},"encoding":{"x":{"datum":0.0554,"type":"quantitative","scale":{"domain":[0,1]},"axis":null},"y":{"datum":0.371,"type":"quantitative","scale":{"domain":[0,1]},"axis":null}},"layer":[
{"mark":{"type":"text","font":"Liberation Serif","fontSize":34.5,"fontWeight":"bold","align":"left","baseline":"alphabetic","color":"#000"},"encoding":{"text":{"field":"l","type":"nominal"}}},
{"mark":{"type":"text","font":"Liberation Serif","fontSize":34.5,"fontWeight":"normal","align":"left","baseline":"alphabetic","dx":50.8,"color":"#000"},"encoding":{"text":{"field":"c","type":"nominal"}}}]}
],"spacing":0},
{"hconcat":[
{"width":206,"height":160,"title":"both-leonard-penny-conv-zmodel2-0-113-113","encoding":{"x":{"field":"x","type":"quantitative","scale":{"domain":[0,35],"nice":false},"axis":{"values":[0,5,10,15,20,25,30,35],"title":"Dist from ideal (0)"}},"y":{"field":"y","type":"quantitative","stack":null,"scale":{"domain":[0,0.159],"nice":false},"axis":{"values":[0,0.02,0.04,0.06,0.08,0.1,0.12,0.14],"format":".2f","title":"Count (normalized)"}}},"layer":[
{"data":{"name":"bars"},"transform":[{"filter":"datum.p==5"}],"mark":{"type":"bar","opacity":0.75,"stroke":"#000","strokeWidth":0.6,"clip":true},"encoding":{"x2":{"field":"x2"},"y2":{"datum":0},"color":{"field":"s","type":"nominal","scale":{"domain":["Z","LM"],"range":["#008000","#0000ff"]},"legend":{"title":null,"orient":"top-right","offset":2,"padding":4,"fillColor":"#fff","strokeColor":"#000","symbolType":"M-1.8,-0.7H1.8V0.7H-1.8Z","symbolSize":49,"symbolStrokeColor":"#000","symbolStrokeWidth":0.5,"labelFontSize":6.6,"labelFont":"DejaVu Sans","rowPadding":1.5,"labelOffset":6,"cornerRadius":0}}}},
{"data":{"name":"curves"},"transform":[{"filter":"datum.p==5&&datum.s=='Z'"}],"mark":{"type":"line","color":"#008000","strokeDash":[3,2],"strokeWidth":0.9,"opacity":0.6,"clip":true},"encoding":{}},
{"data":{"name":"curves"},"transform":[{"filter":"datum.p==5&&datum.s=='LM'"}],"mark":{"type":"line","color":"#0000ff","strokeDash":[3,2],"strokeWidth":0.9,"opacity":0.6,"clip":true},"encoding":{}}]},
{"width":206,"height":160,"title":"both-penny-leonard-conv-zmodel2-0-112-112","encoding":{"x":{"field":"x","type":"quantitative","scale":{"domain":[0,35],"nice":false},"axis":{"values":[0,5,10,15,20,25,30,35],"title":"Dist from ideal (0)"}},"y":{"field":"y","type":"quantitative","stack":null,"scale":{"domain":[0,0.214],"nice":false},"axis":{"values":[0,0.05,0.1,0.15,0.2],"format":".2f","title":"Count (normalized)"}}},"layer":[
{"data":{"name":"bars"},"transform":[{"filter":"datum.p==6"}],"mark":{"type":"bar","opacity":0.75,"stroke":"#000","strokeWidth":0.6,"clip":true},"encoding":{"x2":{"field":"x2"},"y2":{"datum":0},"color":{"field":"s","type":"nominal","scale":{"domain":["Z","LM"],"range":["#008000","#0000ff"]},"legend":{"title":null,"orient":"top-right","offset":2,"padding":4,"fillColor":"#fff","strokeColor":"#000","symbolType":"M-1.8,-0.7H1.8V0.7H-1.8Z","symbolSize":49,"symbolStrokeColor":"#000","symbolStrokeWidth":0.5,"labelFontSize":6.6,"labelFont":"DejaVu Sans","rowPadding":1.5,"labelOffset":6,"cornerRadius":0}}}},
{"data":{"name":"curves"},"transform":[{"filter":"datum.p==6&&datum.s=='Z'"}],"mark":{"type":"line","color":"#008000","strokeDash":[3,2],"strokeWidth":0.9,"opacity":0.6,"clip":true},"encoding":{}},
{"data":{"name":"curves"},"transform":[{"filter":"datum.p==6&&datum.s=='LM'"}],"mark":{"type":"line","color":"#0000ff","strokeDash":[3,2],"strokeWidth":0.9,"opacity":0.6,"clip":true},"encoding":{}}]},
{"width":206,"height":160,"title":"both-howard-raj-conv-zmodel2-0-22-22","encoding":{"x":{"field":"x","type":"quantitative","scale":{"domain":[0,35],"nice":false},"axis":{"values":[0,5,10,15,20,25,30,35],"title":"Dist from ideal (0)"}},"y":{"field":"y","type":"quantitative","stack":null,"scale":{"domain":[0,0.273],"nice":false},"axis":{"values":[0,0.05,0.1,0.15,0.2,0.25],"format":".2f","title":"Count (normalized)"}}},"layer":[
{"data":{"name":"bars"},"transform":[{"filter":"datum.p==7"}],"mark":{"type":"bar","opacity":0.75,"stroke":"#000","strokeWidth":0.6,"clip":true},"encoding":{"x2":{"field":"x2"},"y2":{"datum":0},"color":{"field":"s","type":"nominal","scale":{"domain":["Z","LM"],"range":["#008000","#0000ff"]},"legend":{"title":null,"orient":"top-right","offset":2,"padding":4,"fillColor":"#fff","strokeColor":"#000","symbolType":"M-1.8,-0.7H1.8V0.7H-1.8Z","symbolSize":49,"symbolStrokeColor":"#000","symbolStrokeWidth":0.5,"labelFontSize":6.6,"labelFont":"DejaVu Sans","rowPadding":1.5,"labelOffset":6,"cornerRadius":0}}}},
{"data":{"name":"curves"},"transform":[{"filter":"datum.p==7&&datum.s=='Z'"}],"mark":{"type":"line","color":"#008000","strokeDash":[3,2],"strokeWidth":0.9,"opacity":0.6,"clip":true},"encoding":{}},
{"data":{"name":"curves"},"transform":[{"filter":"datum.p==7&&datum.s=='LM'"}],"mark":{"type":"line","color":"#0000ff","strokeDash":[3,2],"strokeWidth":0.9,"opacity":0.6,"clip":true},"encoding":{}}]},
{"width":206,"height":160,"title":"both-raj-howard-conv-zmodel2-0-23-23","encoding":{"x":{"field":"x","type":"quantitative","scale":{"domain":[0,35],"nice":false},"axis":{"values":[0,5,10,15,20,25,30,35],"title":"Dist from ideal (0)"}},"y":{"field":"y","type":"quantitative","stack":null,"scale":{"domain":[0,0.217],"nice":false},"axis":{"values":[0,0.05,0.1,0.15,0.2],"format":".2f","title":"Count (normalized)"}}},"layer":[
{"data":{"name":"bars"},"transform":[{"filter":"datum.p==8"}],"mark":{"type":"bar","opacity":0.75,"stroke":"#000","strokeWidth":0.6,"clip":true},"encoding":{"x2":{"field":"x2"},"y2":{"datum":0},"color":{"field":"s","type":"nominal","scale":{"domain":["Z","LM"],"range":["#008000","#0000ff"]},"legend":{"title":null,"orient":"top-right","offset":2,"padding":4,"fillColor":"#fff","strokeColor":"#000","symbolType":"M-1.8,-0.7H1.8V0.7H-1.8Z","symbolSize":49,"symbolStrokeColor":"#000","symbolStrokeWidth":0.5,"labelFontSize":6.6,"labelFont":"DejaVu Sans","rowPadding":1.5,"labelOffset":6,"cornerRadius":0}}}},
{"data":{"name":"curves"},"transform":[{"filter":"datum.p==8&&datum.s=='Z'"}],"mark":{"type":"line","color":"#008000","strokeDash":[3,2],"strokeWidth":0.9,"opacity":0.6,"clip":true},"encoding":{}},
{"data":{"name":"curves"},"transform":[{"filter":"datum.p==8&&datum.s=='LM'"}],"mark":{"type":"line","color":"#0000ff","strokeDash":[3,2],"strokeWidth":0.9,"opacity":0.6,"clip":true},"encoding":{}}]}
],"spacing":43,"resolve":{"scale":{"color":"independent"},"legend":{"color":"independent"}}},
{"hconcat":[
{"width":522,"height":70,"view":{"stroke":null},"data":{"values":[{"l":"(c)","c":"Leonard-Penny/Penny-Leonard"}]},"encoding":{"x":{"datum":0,"type":"quantitative","scale":{"domain":[0,1]},"axis":null},"y":{"datum":0.371,"type":"quantitative","scale":{"domain":[0,1]},"axis":null}},"layer":[
{"mark":{"type":"text","font":"Liberation Serif","fontSize":34.5,"fontWeight":"bold","align":"left","baseline":"alphabetic","color":"#000"},"encoding":{"text":{"field":"l","type":"nominal"}}},
{"mark":{"type":"text","font":"Liberation Serif","fontSize":34.5,"fontWeight":"normal","align":"left","baseline":"alphabetic","dx":46.9,"color":"#000"},"encoding":{"text":{"field":"c","type":"nominal"}}}]},
{"width":505,"height":70,"view":{"stroke":null},"data":{"values":[{"l":"(d)","c":"Howard-Raj/Raj-Howard"}]},"encoding":{"x":{"datum":0.1287,"type":"quantitative","scale":{"domain":[0,1]},"axis":null},"y":{"datum":0.371,"type":"quantitative","scale":{"domain":[0,1]},"axis":null}},"layer":[
{"mark":{"type":"text","font":"Liberation Serif","fontSize":34.5,"fontWeight":"bold","align":"left","baseline":"alphabetic","color":"#000"},"encoding":{"text":{"field":"l","type":"nominal"}}},
{"mark":{"type":"text","font":"Liberation Serif","fontSize":34.5,"fontWeight":"normal","align":"left","baseline":"alphabetic","dx":50.8,"color":"#000"},"encoding":{"text":{"field":"c","type":"nominal"}}}]}
],"spacing":0},
{"hconcat":[
{"width":206,"height":160,"title":"both-sheldon-amy-conv-zmodel2-0-44-44","encoding":{"x":{"field":"x","type":"quantitative","scale":{"domain":[0,35],"nice":false},"axis":{"values":[0,5,10,15,20,25,30,35],"title":"Dist from ideal (0)"}},"y":{"field":"y","type":"quantitative","stack":null,"scale":{"domain":[0,0.182],"nice":false},"axis":{"values":[0,0.05,0.1,0.15],"format":".2f","title":"Count (normalized)"}}},"layer":[
{"data":{"name":"bars"},"transform":[{"filter":"datum.p==9"}],"mark":{"type":"bar","opacity":0.75,"stroke":"#000","strokeWidth":0.6,"clip":true},"encoding":{"x2":{"field":"x2"},"y2":{"datum":0},"color":{"field":"s","type":"nominal","scale":{"domain":["Z","LM"],"range":["#008000","#0000ff"]},"legend":{"title":null,"orient":"top-right","offset":2,"padding":4,"fillColor":"#fff","strokeColor":"#000","symbolType":"M-1.8,-0.7H1.8V0.7H-1.8Z","symbolSize":49,"symbolStrokeColor":"#000","symbolStrokeWidth":0.5,"labelFontSize":6.6,"labelFont":"DejaVu Sans","rowPadding":1.5,"labelOffset":6,"cornerRadius":0}}}},
{"data":{"name":"curves"},"transform":[{"filter":"datum.p==9&&datum.s=='Z'"}],"mark":{"type":"line","color":"#008000","strokeDash":[3,2],"strokeWidth":0.9,"opacity":0.6,"clip":true},"encoding":{}},
{"data":{"name":"curves"},"transform":[{"filter":"datum.p==9&&datum.s=='LM'"}],"mark":{"type":"line","color":"#0000ff","strokeDash":[3,2],"strokeWidth":0.9,"opacity":0.6,"clip":true},"encoding":{}}]},
{"width":206,"height":160,"title":"both-amy-sheldon-conv-zmodel2-0-42-42","encoding":{"x":{"field":"x","type":"quantitative","scale":{"domain":[0,35],"nice":false},"axis":{"values":[0,5,10,15,20,25,30,35],"title":"Dist from ideal (0)"}},"y":{"field":"y","type":"quantitative","stack":null,"scale":{"domain":[0,0.238],"nice":false},"axis":{"values":[0,0.05,0.1,0.15,0.2],"format":".2f","title":"Count (normalized)"}}},"layer":[
{"data":{"name":"bars"},"transform":[{"filter":"datum.p==10"}],"mark":{"type":"bar","opacity":0.75,"stroke":"#000","strokeWidth":0.6,"clip":true},"encoding":{"x2":{"field":"x2"},"y2":{"datum":0},"color":{"field":"s","type":"nominal","scale":{"domain":["Z","LM"],"range":["#008000","#0000ff"]},"legend":{"title":null,"orient":"top-right","offset":2,"padding":4,"fillColor":"#fff","strokeColor":"#000","symbolType":"M-1.8,-0.7H1.8V0.7H-1.8Z","symbolSize":49,"symbolStrokeColor":"#000","symbolStrokeWidth":0.5,"labelFontSize":6.6,"labelFont":"DejaVu Sans","rowPadding":1.5,"labelOffset":6,"cornerRadius":0}}}},
{"data":{"name":"curves"},"transform":[{"filter":"datum.p==10&&datum.s=='Z'"}],"mark":{"type":"line","color":"#008000","strokeDash":[3,2],"strokeWidth":0.9,"opacity":0.6,"clip":true},"encoding":{}},
{"data":{"name":"curves"},"transform":[{"filter":"datum.p==10&&datum.s=='LM'"}],"mark":{"type":"line","color":"#0000ff","strokeDash":[3,2],"strokeWidth":0.9,"opacity":0.6,"clip":true},"encoding":{}}]},
{"width":206,"height":160,"title":"both-howard-bernadette-conv-zmodel2-0-33-33","encoding":{"x":{"field":"x","type":"quantitative","scale":{"domain":[0,35],"nice":false},"axis":{"values":[0,5,10,15,20,25,30,35],"title":"Dist from ideal (0)"}},"y":{"field":"y","type":"quantitative","stack":null,"scale":{"domain":[0,0.182],"nice":false},"axis":{"values":[0,0.05,0.1,0.15],"format":".2f","title":"Count (normalized)"}}},"layer":[
{"data":{"name":"bars"},"transform":[{"filter":"datum.p==11"}],"mark":{"type":"bar","opacity":0.75,"stroke":"#000","strokeWidth":0.6,"clip":true},"encoding":{"x2":{"field":"x2"},"y2":{"datum":0},"color":{"field":"s","type":"nominal","scale":{"domain":["Z","LM"],"range":["#008000","#0000ff"]},"legend":{"title":null,"orient":"top-right","offset":2,"padding":4,"fillColor":"#fff","strokeColor":"#000","symbolType":"M-1.8,-0.7H1.8V0.7H-1.8Z","symbolSize":49,"symbolStrokeColor":"#000","symbolStrokeWidth":0.5,"labelFontSize":6.6,"labelFont":"DejaVu Sans","rowPadding":1.5,"labelOffset":6,"cornerRadius":0}}}},
{"data":{"name":"curves"},"transform":[{"filter":"datum.p==11&&datum.s=='Z'"}],"mark":{"type":"line","color":"#008000","strokeDash":[3,2],"strokeWidth":0.9,"opacity":0.6,"clip":true},"encoding":{}},
{"data":{"name":"curves"},"transform":[{"filter":"datum.p==11&&datum.s=='LM'"}],"mark":{"type":"line","color":"#0000ff","strokeDash":[3,2],"strokeWidth":0.9,"opacity":0.6,"clip":true},"encoding":{}}]},
{"width":206,"height":160,"title":"both-bernadette-howard-conv-zmodel2-0-31-31","encoding":{"x":{"field":"x","type":"quantitative","scale":{"domain":[0,35],"nice":false},"axis":{"values":[0,5,10,15,20,25,30,35],"title":"Dist from ideal (0)"}},"y":{"field":"y","type":"quantitative","stack":null,"scale":{"domain":[0,0.323],"nice":false},"axis":{"values":[0,0.05,0.1,0.15,0.2,0.25,0.3],"format":".2f","title":"Count (normalized)"}}},"layer":[
{"data":{"name":"bars"},"transform":[{"filter":"datum.p==12"}],"mark":{"type":"bar","opacity":0.75,"stroke":"#000","strokeWidth":0.6,"clip":true},"encoding":{"x2":{"field":"x2"},"y2":{"datum":0},"color":{"field":"s","type":"nominal","scale":{"domain":["Z","LM"],"range":["#008000","#0000ff"]},"legend":{"title":null,"orient":"top-right","offset":2,"padding":4,"fillColor":"#fff","strokeColor":"#000","symbolType":"M-1.8,-0.7H1.8V0.7H-1.8Z","symbolSize":49,"symbolStrokeColor":"#000","symbolStrokeWidth":0.5,"labelFontSize":6.6,"labelFont":"DejaVu Sans","rowPadding":1.5,"labelOffset":6,"cornerRadius":0}}}},
{"data":{"name":"curves"},"transform":[{"filter":"datum.p==12&&datum.s=='Z'"}],"mark":{"type":"line","color":"#008000","strokeDash":[3,2],"strokeWidth":0.9,"opacity":0.6,"clip":true},"encoding":{}},
{"data":{"name":"curves"},"transform":[{"filter":"datum.p==12&&datum.s=='LM'"}],"mark":{"type":"line","color":"#0000ff","strokeDash":[3,2],"strokeWidth":0.9,"opacity":0.6,"clip":true},"encoding":{}}]}
],"spacing":43,"resolve":{"scale":{"color":"independent"},"legend":{"color":"independent"}}},
{"hconcat":[
{"width":522,"height":70,"view":{"stroke":null},"data":{"values":[{"l":"(e)","c":"Sheldon-Amy/Amy-Sheldon"}]},"encoding":{"x":{"datum":0,"type":"quantitative","scale":{"domain":[0,1]},"axis":null},"y":{"datum":0.371,"type":"quantitative","scale":{"domain":[0,1]},"axis":null}},"layer":[
{"mark":{"type":"text","font":"Liberation Serif","fontSize":34.5,"fontWeight":"bold","align":"left","baseline":"alphabetic","color":"#000"},"encoding":{"text":{"field":"l","type":"nominal"}}},
{"mark":{"type":"text","font":"Liberation Serif","fontSize":34.5,"fontWeight":"normal","align":"left","baseline":"alphabetic","dx":46.9,"color":"#000"},"encoding":{"text":{"field":"c","type":"nominal"}}}]},
{"width":505,"height":70,"view":{"stroke":null},"data":{"values":[{"l":"(f)","c":"Howard-Bernadette / Bernadette-","c2":"Howard"}]},"encoding":{"x":{"datum":0,"type":"quantitative","scale":{"domain":[0,1]},"axis":null},"y":{"datum":0.371,"type":"quantitative","scale":{"domain":[0,1]},"axis":null}},"layer":[
{"mark":{"type":"text","font":"Liberation Serif","fontSize":34.5,"fontWeight":"bold","align":"left","baseline":"alphabetic","color":"#000"},"encoding":{"text":{"field":"l","type":"nominal"}}},
{"mark":{"type":"text","font":"Liberation Serif","fontSize":34.5,"fontWeight":"normal","align":"left","baseline":"alphabetic","dx":43.1,"color":"#000"},"encoding":{"text":{"field":"c","type":"nominal"}}},
{"mark":{"type":"text","font":"Liberation Serif","fontSize":34.5,"fontWeight":"normal","align":"left","baseline":"alphabetic","dy":37,"color":"#000"},"encoding":{"text":{"field":"c2","type":"nominal"}}}]}
],"spacing":0}
],
"config":{
"font":"DejaVu Sans",
"view":{"stroke":"#333","strokeWidth":0.9},
"title":{"font":"DejaVu Sans","fontSize":6.6,"fontWeight":"normal","offset":2,"color":"#111"},
"axis":{"labelFont":"DejaVu Sans","labelFontSize":5.5,"labelColor":"#111","titleFont":"DejaVu Sans","titleFontSize":5.5,"titleFontWeight":"normal","titleColor":"#111","domain":false,"ticks":false,"grid":true,"gridColor":"#aaa","gridDash":[1,2],"gridWidth":0.7,"labelPadding":3,"titlePadding":2,"labelFlush":false,"labelOverlap":false}
}
}
